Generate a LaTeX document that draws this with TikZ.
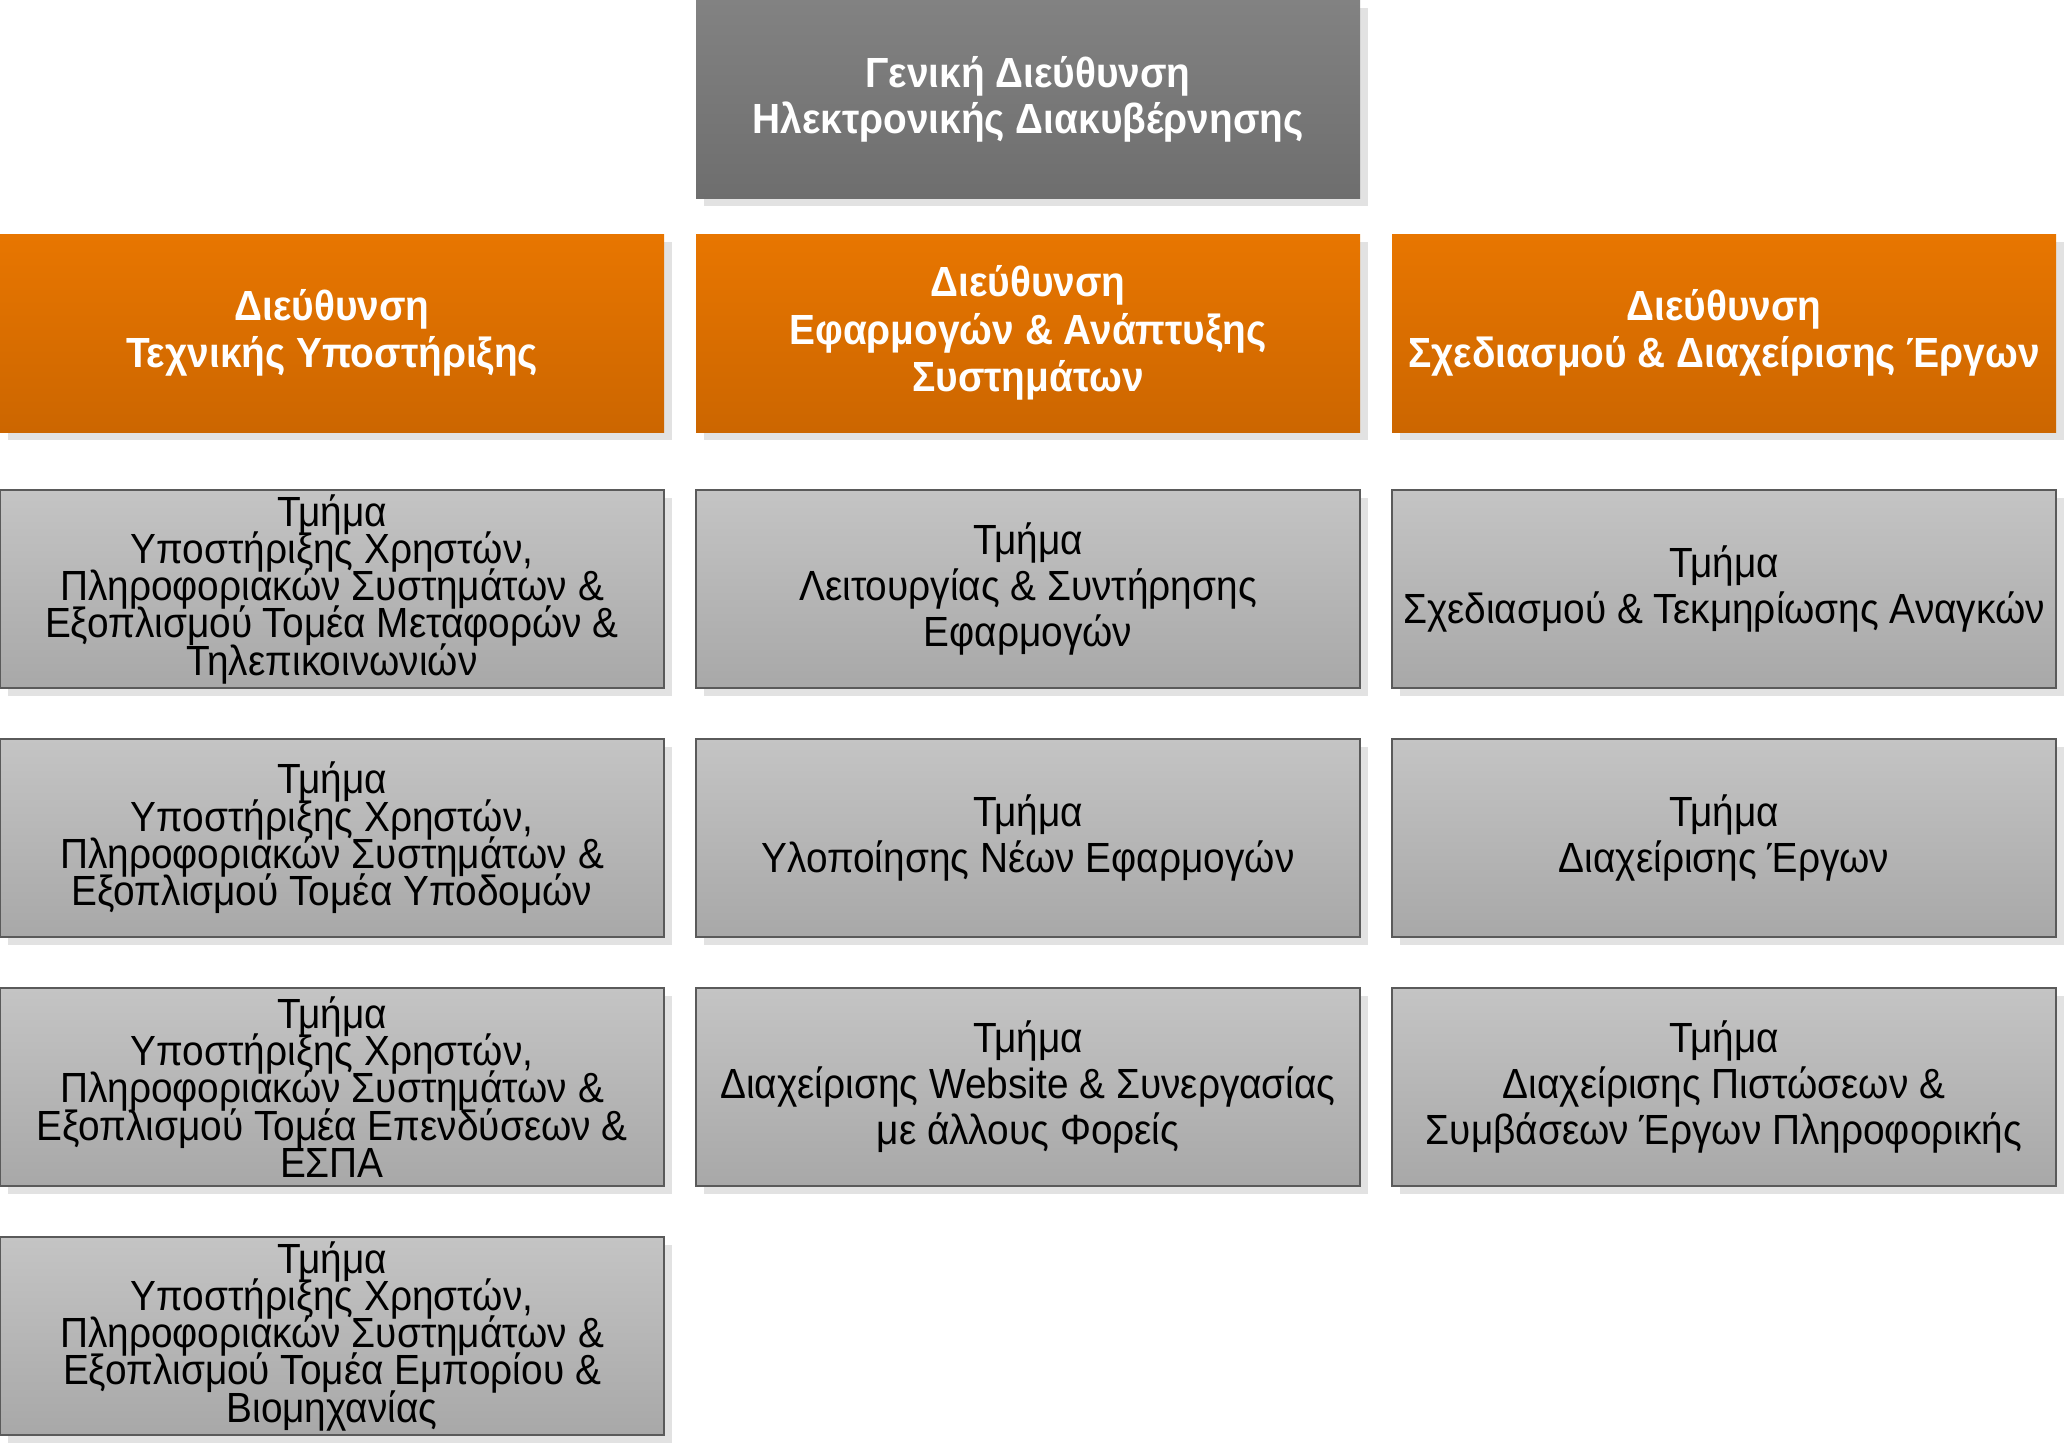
\documentclass[tikz,border=0pt]{standalone}
\usepackage{fontspec}
\setmainfont{Liberation Sans}
\newfontfamily\deptfont{Liberation Sans}[FakeStretch=0.92]
\newfontfamily\headfont{Liberation Sans}[FakeStretch=0.92]
\usetikzlibrary{positioning,shadows}
\newcommand\overlaplines{\lineskiplimit=-20pt\relax}

\definecolor{orangetop}{RGB}{232,118,0}
\definecolor{orangebot}{RGB}{204,102,0}
\definecolor{greytop}{RGB}{196,196,196}
\definecolor{greybot}{RGB}{168,168,168}
\definecolor{darktop}{RGB}{130,130,130}
\definecolor{darkbot}{RGB}{110,110,110}
\definecolor{shadowgrey}{RGB}{226,226,226}
\definecolor{edgegrey}{RGB}{90,90,90}

\begin{document}
\begin{tikzpicture}[node distance=0.32cm]

\def\boxwidth{6.64cm};
\def\boxheight{1.98cm};
\def\rowpitch{2.49cm};
\tikzset{org box/.style={
    rectangle,
    align=center,
    outer sep=0,
    inner sep=0.1ex,
    minimum width=\boxwidth,
    minimum height=\boxheight,
    drop shadow={shadow xshift=0.08cm, shadow yshift=-0.08cm,
        fill=shadowgrey, opacity=1}
}};
\tikzset{head box/.style={
    org box,
    top color=orangetop,
    bottom color=orangebot,
    text=white,
    font=\headfont\bfseries\fontsize{12}{13.5}\selectfont\overlaplines
}};
\tikzset{top box/.style={
    org box,
    top color=darktop,
    bottom color=darkbot,
    text=white,
    font=\headfont\bfseries\fontsize{12}{13.1}\selectfont\overlaplines
}};
\tikzset{dept box/.style={
    org box,
    draw=edgegrey,
    line width=0.6pt,
    top color=greytop,
    bottom color=greybot,
    text=black,
    font=\deptfont\fontsize{12}{13.1}\selectfont\overlaplines
}};
\tikzset{tight box/.style={
    dept box,
    font=\deptfont\fontsize{12}{10.6}\selectfont\overlaplines
}};

\useasboundingbox (0,0) rectangle (20.70,-14.46);

\node[head box, anchor=north west] (dirtech) at (0,-2.34)
    {Διεύθυνση\\Τεχνικής Υποστήριξης};
\node[head box, right=of dirtech] (dirapps)
    {Διεύθυνση\\Εφαρμογών \& Ανάπτυξης\\Συστημάτων};
\node[head box, right=of dirapps] (dirproj)
    {Διεύθυνση\\Σχεδιασμού \& Διαχείρισης Έργων};

\node[top box, above=0.36cm of dirapps] (gendir)
    {Γενική Διεύθυνση\\Ηλεκτρονικής Διακυβέρνησης};

\foreach \sector [count=\i] in {{Μεταφορών \&\\Τηλεπικοινωνιών},
        {Υποδομών}, {Επενδύσεων \&\\ΕΣΠΑ}, {Εμπορίου \&\\Βιομηχανίας}} {
    \node[tight box, below=0.58cm of dirtech] (tech\i) [
        yshift=-(\i-1)*\rowpitch]
        {Τμήμα\\Υποστήριξης Χρηστών,\\Πληροφοριακών Συστημάτων \&\\Εξοπλισμού Τομέα \sector};
}

\foreach \val [count=\i] in {{Λειτουργίας \& Συντήρησης\\Εφαρμογών},
        {Υλοποίησης Νέων Εφαρμογών},
        {Διαχείρισης Website \& Συνεργασίας\\με άλλους Φορείς}} {
    \node[dept box, below=0.58cm of dirapps] (apps\i) [
        yshift=-(\i-1)*\rowpitch] {Τμήμα\\\val};
}

\foreach \val [count=\i] in {{Σχεδιασμού \& Τεκμηρίωσης Αναγκών},
        {Διαχείρισης Έργων},
        {Διαχείρισης Πιστώσεων \&\\Συμβάσεων Έργων Πληροφορικής}} {
    \node[dept box, below=0.58cm of dirproj] (proj\i) [
        yshift=-(\i-1)*\rowpitch] {Τμήμα\\\val};
}
\end{tikzpicture}
\end{document}
